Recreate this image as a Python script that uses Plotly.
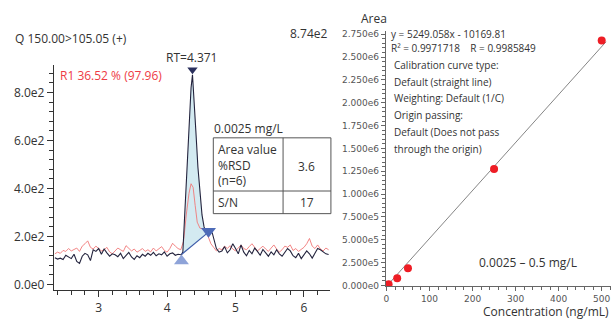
import plotly.graph_objects as go

# ---------------- data: chromatogram (left) ----------------
rt_black = [2.36, 2.40, 2.44, 2.48, 2.52, 2.56, 2.60, 2.64, 2.68, 2.72, 2.76, 2.80, 2.84, 2.88, 2.92, 2.96,
            3.00, 3.04, 3.08, 3.12, 3.16, 3.20, 3.24, 3.28, 3.32, 3.36, 3.40, 3.44, 3.48, 3.52, 3.56, 3.60,
            3.64, 3.68, 3.72, 3.76, 3.80, 3.84, 3.88, 3.92, 3.96, 4.00, 4.04, 4.08, 4.12, 4.16, 4.20,
            4.21, 4.23, 4.26, 4.29, 4.32, 4.35, 4.371, 4.39, 4.42, 4.45, 4.48, 4.51, 4.54, 4.57, 4.60,
            4.63, 4.66, 4.69, 4.72, 4.76,
            4.80, 4.84, 4.88, 4.92, 4.96, 5.00, 5.04, 5.08, 5.12, 5.16, 5.20, 5.24, 5.28, 5.32, 5.36, 5.40,
            5.44, 5.48, 5.52, 5.56, 5.60, 5.64, 5.68, 5.72, 5.76, 5.80, 5.84, 5.88, 5.92, 5.96, 6.00, 6.04,
            6.08, 6.12, 6.16, 6.20, 6.24, 6.28, 6.32, 6.36]
int_black = [112, 106, 110, 104, 122, 115, 108, 126, 96, 88, 118, 130, 124, 100, 145, 138,
             150, 126, 148, 132, 118, 128, 124, 116, 130, 108, 122, 134, 115, 105, 120, 112,
             126, 118, 130, 122, 134, 120, 128, 124, 136, 118, 128, 132, 122, 126, 124,
             125, 135, 300, 480, 650, 820, 874, 800, 640, 490, 370, 290, 240, 215, 212,
             222, 215, 180, 150, 135,
             140, 158, 132, 145, 170, 150, 128, 165, 135, 120, 142, 128, 152, 138, 122, 146,
             130, 118, 136, 124, 145, 128, 118, 132, 150, 140, 120, 112, 130, 108, 122, 140,
             128, 110, 130, 150, 145, 138, 128, 125]

rt_red = [2.36, 2.40, 2.44, 2.48, 2.52, 2.56, 2.60, 2.64, 2.68, 2.72, 2.76, 2.80, 2.84, 2.88, 2.92, 2.96,
          3.00, 3.04, 3.08, 3.12, 3.16, 3.20, 3.24, 3.28, 3.32, 3.36, 3.40, 3.44, 3.48, 3.52, 3.56, 3.60,
          3.64, 3.68, 3.72, 3.76, 3.80, 3.84, 3.88, 3.92, 3.96, 4.00, 4.04, 4.08, 4.12, 4.16, 4.20,
          4.24, 4.28, 4.32, 4.35, 4.38, 4.41, 4.44, 4.48, 4.52, 4.56, 4.60, 4.64, 4.68, 4.72, 4.76,
          4.80, 4.84, 4.88, 4.92, 4.96, 5.00, 5.04, 5.08, 5.12, 5.16, 5.20, 5.24, 5.28, 5.32, 5.36, 5.40,
          5.44, 5.48, 5.52, 5.56, 5.60, 5.64, 5.68, 5.72, 5.76, 5.80, 5.84, 5.88, 5.92, 5.96, 6.00, 6.04,
          6.08, 6.12, 6.16, 6.20, 6.24, 6.28, 6.32, 6.36]
int_red = [128, 135, 130, 142, 138, 150, 140, 145, 152, 138, 160, 170, 182, 155, 148, 160,
           150, 140, 145, 155, 136, 128, 140, 152, 145, 138, 162, 150, 140, 148, 135, 142,
           150, 138, 145, 136, 152, 140, 148, 158, 142, 135, 150, 172, 160, 150, 145,
           180, 290, 380, 420, 405, 330, 260, 235, 232, 228, 200, 170, 155, 140, 150,
           145, 160, 150, 162, 148, 140, 155, 165, 150, 145, 158, 170, 155, 140, 150, 160,
           148, 138, 152, 165, 148, 135, 145, 160, 155, 165, 142, 150, 138, 148, 155, 170,
           192, 160, 150, 165, 148, 140, 152, 145]

peak_base_rt = [4.21, 4.57]
peak_base_int = [125, 210]
peak_apex_rt = [4.371]
peak_apex_int = [895]
start_marker_rt = [4.21]
start_marker_int = [98]
end_marker_rt = [4.605]
end_marker_int = [222]

left_ytickvals = [0, 200, 400, 600, 800]
left_yticktext = ["0.0e0", "2.0e2", "4.0e2", "6.0e2", "8.0e2"]
left_xtickvals = [3, 4, 5, 6]

# ---------------- data: calibration (right) ----------------
conc = [2.5, 5, 25, 50, 250, 500]
area = [3000, 14000, 80000, 190000, 1275000, 2680000]
slope = 5249.058
intercept = -10169.81
fit_x = [0, 510]

right_ytickvals = [0, 250000, 500000, 750000, 1000000, 1250000, 1500000, 1750000,
                   2000000, 2250000, 2500000, 2750000]
right_yticktext = ["0.000e0", "2.500e5", "5.000e5", "7.500e5", "1.000e6", "1.250e6", "1.500e6",
                   "1.750e6", "2.000e6", "2.250e6", "2.500e6", "2.750e6"]
right_xtickvals = [0, 100, 200, 300, 400, 500]

W, H = 611, 322
def px(x):
    return x / W
def py(y):
    return 1 - y / H

FONT = "Open Sans"

fig = go.Figure()

# shaded peak area
sel = [(x, y) for x, y in zip(rt_black, int_black) if peak_base_rt[0] <= x <= peak_base_rt[1]]
poly_x = [x for x, _ in sel] + [peak_base_rt[1], peak_base_rt[0]]
poly_y = [y for _, y in sel] + [peak_base_int[1], peak_base_int[0]]
fig.add_trace(go.Scatter(x=poly_x, y=poly_y, fill="toself", fillcolor="#d3eaf1",
                         line=dict(width=0), mode="lines", hoverinfo="skip",
                         xaxis="x", yaxis="y"))

fig.add_trace(go.Scatter(x=rt_red, y=int_red, mode="lines",
                         line=dict(color="#f07878", width=0.9), xaxis="x", yaxis="y"))
fig.add_trace(go.Scatter(x=rt_black, y=int_black, mode="lines",
                         line=dict(color="#23233d", width=1.1), xaxis="x", yaxis="y"))
fig.add_trace(go.Scatter(x=peak_base_rt, y=peak_base_int, mode="lines",
                         line=dict(color="#3d5ba9", width=1.2), xaxis="x", yaxis="y"))
fig.add_trace(go.Scatter(x=start_marker_rt, y=start_marker_int, mode="markers",
                         marker=dict(symbol="triangle-up", size=13, color="#8ea3d8"),
                         xaxis="x", yaxis="y"))
fig.add_trace(go.Scatter(x=end_marker_rt, y=end_marker_int, mode="markers",
                         marker=dict(symbol="triangle-down", size=13, color="#4d6bb8"),
                         xaxis="x", yaxis="y"))
fig.add_trace(go.Scatter(x=peak_apex_rt, y=peak_apex_int, mode="markers",
                         marker=dict(symbol="triangle-down", size=9, color="#2a2f5c"),
                         xaxis="x", yaxis="y"))

# calibration
fig.add_trace(go.Scatter(x=fit_x, y=[slope * v + intercept for v in fit_x], mode="lines",
                         line=dict(color="#666666", width=0.8), xaxis="x2", yaxis="y2"))
fig.add_trace(go.Scatter(x=conc, y=area, mode="markers",
                         marker=dict(color="#ee1d25", size=8), xaxis="x2", yaxis="y2"))

axis_common = dict(showgrid=False, zeroline=False, showline=True, ticks="outside", fixedrange=True)

fig.update_layout(
    width=W, height=H, margin=dict(l=0, r=0, t=0, b=0),
    paper_bgcolor="white", plot_bgcolor="white", showlegend=False,
    font=dict(family=FONT, color="#333333", size=12),
    xaxis=dict(domain=[px(52), px(329)], range=[2.345, 6.379], anchor="y",
               linecolor="#333333", linewidth=1, tickvals=left_xtickvals, ticklen=6,
               tickcolor="#333333", tickfont=dict(size=12, color="#333333"),
               minor=dict(dtick=0.2, ticklen=4, ticks="outside", tickcolor="#333333"),
               **axis_common),
    yaxis=dict(domain=[py(294), py(65)], range=[-24.6, 915], anchor="x",
               linecolor="#333333", linewidth=1, tickvals=left_ytickvals, ticktext=left_yticktext,
               ticklen=6, tickcolor="#333333", tickfont=dict(size=12, color="#333333"),
               minor=dict(dtick=40, ticklen=4, ticks="outside", tickcolor="#333333"),
               **axis_common),
    xaxis2=dict(domain=[px(385), 1.0], range=[-1.6, 521.6], anchor="y2",
                linecolor="#666666", linewidth=1, tickvals=right_xtickvals, ticklen=4,
                tickcolor="#666666", tickfont=dict(size=9, color="#555555", family="DejaVu Sans"),
                minor=dict(dtick=20, ticklen=2.5, ticks="outside", tickcolor="#666666"),
                **axis_common),
    yaxis2=dict(domain=[py(290), py(30)], range=[-10800, 2790000], anchor="x2",
                linecolor="#666666", linewidth=1, tickvals=right_ytickvals, ticktext=right_yticktext,
                ticklen=4, tickcolor="#666666",
                tickfont=dict(size=9, color="#555555", family="DejaVu Sans"),
                minor=dict(dtick=50000, ticklen=2.5, ticks="outside", tickcolor="#666666"),
                **axis_common),
)

def ann(text, x, y, size=12, color="#333333", xanchor="left", family=FONT, align="left"):
    fig.add_annotation(text=text, x=px(x), y=py(y), xref="paper", yref="paper",
                       xanchor=xanchor, yanchor="middle", showarrow=False, align=align,
                       font=dict(size=size, color=color, family=family))

# left texts
ann("Q 150.00>105.05 (+)", 11, 38)
ann("8.74e2", 287, 33)
ann("RT=4.371", 190, 57, xanchor="center")
ann("R1 36.52 % (97.96)", 56, 76, color="#ee3b45")
ann("0.0025 mg/L", 211, 130)
ann("Area value<br>%RSD<br>(n=6)", 215, 167)
ann("3.6", 306, 168, xanchor="center")
ann("S/N", 215, 205)
ann("17", 306, 205, xanchor="center")

# table lines
for (x0, y0, x1, y1) in [(212, 139, 330, 139), (212, 216, 330, 216), (212, 139, 212, 216),
                         (330, 139, 330, 216), (282, 139, 282, 216), (212, 193, 330, 193)]:
    fig.add_shape(type="line", xref="paper", yref="paper", x0=px(x0), y0=py(y0), x1=px(x1), y1=py(y1),
                  line=dict(color="#555555", width=1))

# right texts
ann("Area", 373, 18, size=12, xanchor="center")
rs = 10
ann("y = 5249.058x - 10169.81", 388, 34, size=rs)
ann("R² = 0.9971718    R = 0.9985849", 388, 48, size=rs)
ann("Calibration curve type:", 391, 65, size=rs)
ann("Default (straight line)", 391, 82, size=rs)
ann("Weighting: Default (1/C)", 391, 99, size=rs)
ann("Origin passing:", 391, 116, size=rs)
ann("Default (Does not pass", 391, 133, size=rs)
ann("through the origin)", 391, 150, size=rs)
ann("0.0025 – 0.5 mg/L", 477, 266, size=12)
ann("Concentration (ng/mL)", 611, 315, size=12, xanchor="right")

fig.write_html("out.html")
